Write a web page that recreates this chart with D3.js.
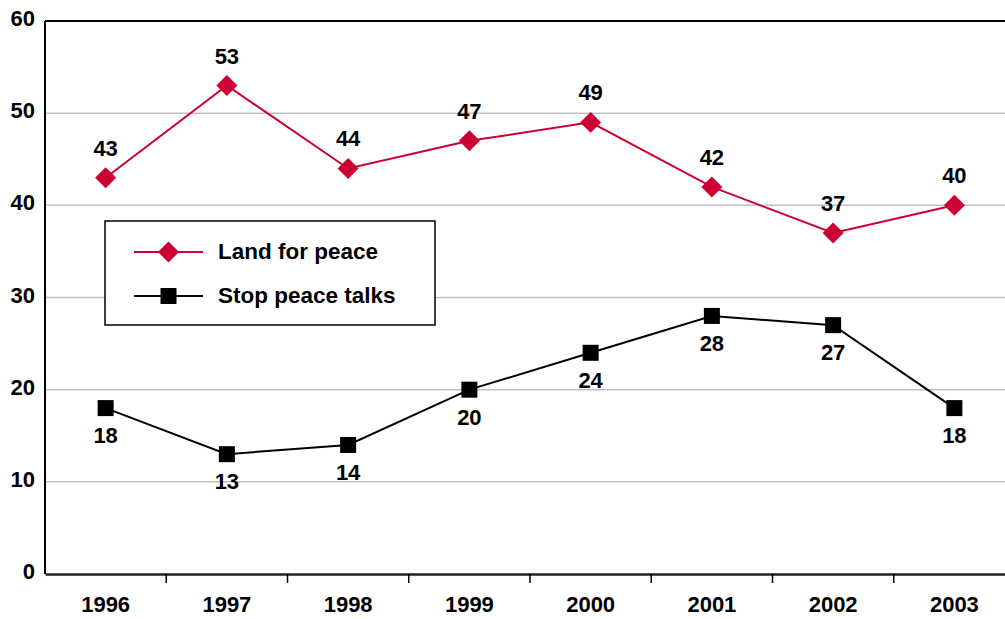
<!DOCTYPE html>
<html><head><meta charset="utf-8">
<script src="https://cdn.jsdelivr.net/npm/d3@7"></script>
<style>body{margin:0;background:#fff}svg{display:block}text{font-family:"Liberation Sans",Arial,sans-serif;font-weight:bold}</style>
</head><body>
<svg id="c" width="1005" height="619"></svg>
<script>
const years = ["1996","1997","1998","1999","2000","2001","2002","2003"];
const landForPeace = [43,53,44,47,49,42,37,40];
const stopPeaceTalks = [18,13,14,20,24,28,27,18];
const yTicks = [0,10,20,30,40,50,60];
const seriesNames = ["Land for peace","Stop peace talks"];

const svg = d3.select("#c");
const pLeft = 45, pRight = 1015, pTop = 21, pBottom = 574;
const x = d3.scaleBand().domain(years).range([pLeft, pRight]);
const y = d3.scaleLinear().domain([0,60]).range([pBottom, pTop]);
const red = "#cc0033";
const FS = 22;

// grid
svg.append("g").selectAll("line").data(yTicks.filter(d=>d>0 && d<60)).join("line")
  .attr("x1", pLeft).attr("x2", pRight).attr("y1", d=>y(d)).attr("y2", d=>y(d))
  .attr("stroke", "#c0c0c0").attr("stroke-width", 1.5);

// frame top + left
svg.append("line").attr("x1", pLeft).attr("x2", pRight).attr("y1", y(60)).attr("y2", y(60)).attr("stroke","#000").attr("stroke-width",2);
svg.append("line").attr("x1", pLeft).attr("x2", pLeft).attr("y1", y(60)).attr("y2", y(0)).attr("stroke","#000").attr("stroke-width",2);

// y axis labels
const yAx = d3.axisLeft(y).tickValues(yTicks).tickSize(0).tickPadding(10);
const gy = svg.append("g").attr("transform", `translate(${pLeft},0)`).call(yAx);
gy.select(".domain").remove();
gy.selectAll("text").attr("font-size", FS).attr("font-family", '"Liberation Sans",Arial,sans-serif').attr("font-weight","bold").attr("fill","#000").attr("y", -2.5);

// x axis
const xAx = d3.axisBottom(x).tickSize(0).tickPadding(22);
const gx = svg.append("g").attr("transform", `translate(0,${pBottom})`).call(xAx);
gx.select(".domain").attr("stroke","#222").attr("stroke-width",2.5);
gx.selectAll("text").attr("font-size", FS).attr("font-family", '"Liberation Sans",Arial,sans-serif').attr("font-weight","bold").attr("fill","#000");
// ticks between categories
svg.append("g").selectAll("line").data(years.slice(1)).join("line")
  .attr("x1", d=>x(d)).attr("x2", d=>x(d)).attr("y1", pBottom).attr("y2", pBottom+9)
  .attr("stroke","#000").attr("stroke-width",1.5);

const cx = d => x(d) + x.bandwidth()/2;
const line = d3.line().x((d,i)=>cx(years[i])).y(d=>y(d));

// Land for peace
svg.append("path").datum(landForPeace).attr("d", line).attr("fill","none").attr("stroke", red).attr("stroke-width", 2);
const diamond = d3.symbol().type(d3.symbolSquare).size(220);
svg.append("g").selectAll("path").data(landForPeace).join("path")
  .attr("d", diamond).attr("fill", red)
  .attr("transform", (d,i)=>`translate(${cx(years[i])},${y(d)}) rotate(45)`);
svg.append("g").selectAll("text").data(landForPeace).join("text")
  .attr("x",(d,i)=>cx(years[i])).attr("y", d=>y(d)-22)
  .attr("text-anchor","middle").attr("font-size",FS).text(d=>d);

// Stop peace talks
svg.append("path").datum(stopPeaceTalks).attr("d", line).attr("fill","none").attr("stroke","#000").attr("stroke-width",2);
svg.append("g").selectAll("rect").data(stopPeaceTalks).join("rect")
  .attr("x",(d,i)=>cx(years[i])-8).attr("y", d=>y(d)-8).attr("width",16).attr("height",16).attr("fill","#000");
svg.append("g").selectAll("text").data(stopPeaceTalks).join("text")
  .attr("x",(d,i)=>cx(years[i])).attr("y", d=>y(d)+35)
  .attr("text-anchor","middle").attr("font-size",FS).text(d=>d);

// legend
const lg = svg.append("g");
lg.append("rect").attr("x",105).attr("y",221).attr("width",330).attr("height",104).attr("fill","#fff").attr("stroke","#000").attr("stroke-width",1.5);
const rows = [{name:seriesNames[0], color:red, type:"diamond", yy:252},{name:seriesNames[1], color:"#000", type:"square", yy:296}];
rows.forEach(r=>{
  lg.append("line").attr("x1",134).attr("x2",203).attr("y1",r.yy).attr("y2",r.yy).attr("stroke",r.color).attr("stroke-width",2);
  if(r.type==="diamond"){
    lg.append("path").attr("d", diamond).attr("fill", r.color).attr("transform",`translate(168.5,${r.yy}) rotate(45)`);
  } else {
    lg.append("rect").attr("x",160.5).attr("y",r.yy-8).attr("width",16).attr("height",16).attr("fill",r.color);
  }
  lg.append("text").attr("x",218).attr("y",r.yy+7).attr("font-size",22.5).text(r.name);
});
</script>
</body></html>
